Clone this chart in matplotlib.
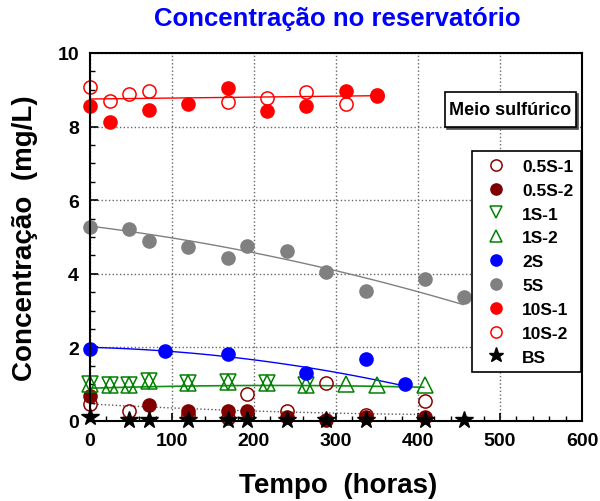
import numpy as np
import matplotlib
matplotlib.use("Agg")
import matplotlib.pyplot as plt
from matplotlib.patches import Rectangle
from matplotlib.transforms import offset_copy

plt.rcParams['font.family'] = ['Liberation Sans', 'DejaVu Sans']
plt.rcParams['font.weight'] = 'bold'

# dados (tempo em horas, concentração em mg/L)
t_05s1 = [0, 48, 120, 168, 192, 240, 288, 336, 408]
c_05s1 = [0.46, 0.28, 0.15, 0.08, 0.73, 0.28, 1.04, 0.15, 0.55]
t_05s2 = [0, 72, 120, 168, 192, 240, 288, 336, 408]
c_05s2 = [0.69, 0.43, 0.28, 0.26, 0.27, 0.11, 0.04, 0.10, 0.10]
t_1s1 = [0, 24, 48, 72, 120, 168, 216, 264]
c_1s1 = [1.00, 0.99, 0.99, 1.08, 1.04, 1.06, 1.02, 0.99]
t_1s2 = [0, 24, 48, 72, 120, 168, 216, 264, 312, 350, 408]
c_1s2 = [1.00, 0.99, 0.99, 1.08, 1.04, 1.06, 1.02, 0.99, 1.01, 0.97, 0.99]
t_2s = [0, 92, 168, 264, 336, 384]
c_2s = [1.97, 1.90, 1.83, 1.30, 1.69, 1.00]
t_5s = [0, 48, 72, 120, 168, 192, 240, 288, 336, 408, 456]
c_5s = [5.26, 5.21, 4.88, 4.73, 4.44, 4.76, 4.61, 4.05, 3.54, 3.85, 3.36]
t_10s1 = [0, 24, 72, 120, 168, 216, 264, 312, 350]
c_10s1 = [8.57, 8.13, 8.46, 8.62, 9.04, 8.42, 8.57, 8.96, 8.84]
t_10s2 = [0, 24, 48, 72, 168, 216, 264, 312, 350]
c_10s2 = [9.07, 8.70, 8.88, 8.96, 8.68, 8.78, 8.93, 8.62, 8.85]
t_bs = [0, 48, 72, 120, 168, 192, 240, 288, 336, 408, 456]
c_bs = [0.12, 0.04, 0.04, 0.04, 0.04, 0.04, 0.04, 0.04, 0.04, 0.04, 0.04]

# curvas de tendência
fit_05_t = [0, 100, 200, 300, 407]
fit_05_c = [0.46, 0.36, 0.27, 0.21, 0.18]
fit_1_t = [0, 50, 100, 200, 300, 407]
fit_1_c = [0.88, 0.93, 0.95, 0.96, 0.95, 0.92]
fit_2_t = [0, 100, 200, 300, 380]
fit_2_c = [2.00, 1.89, 1.66, 1.32, 0.97]
fit_5_t = [0, 100, 200, 300, 400, 455]
fit_5_c = [5.29, 4.98, 4.59, 4.05, 3.53, 3.16]
fit_10_t = [0, 350]
fit_10_c = [8.75, 8.84]


def trend(xs, ys, deg=2):
    p = np.polyfit(xs, ys, deg)
    xx = np.linspace(min(xs), max(xs), 100)
    return xx, np.polyval(p, xx)


fig = plt.figure(figsize=(6, 5.02), dpi=100)
ax = fig.add_axes([90/600, 80/502, 492/600, 368/502])

ax.plot(*trend(fit_05_t, fit_05_c), ls=':', color='0.35', lw=1)
ax.plot(*trend(fit_1_t, fit_1_c), color='#109010', lw=1.2)
ax.plot(*trend(fit_2_t, fit_2_c), color='blue', lw=1)
ax.plot(*trend(fit_5_t, fit_5_c), color='gray', lw=1)
ax.plot(*trend(fit_10_t, fit_10_c, 1), color='red', lw=1)

ms = 9.5
kw = dict(ls='none', clip_on=False)
ax.plot(t_05s1, c_05s1, 'o', ms=ms, mfc='none', mec='#8b0000', mew=1.1, label='0.5S-1', **kw)
ax.plot(t_05s2, c_05s2, 'o', ms=ms, color='#800000', label='0.5S-2', **kw)
ax.plot(t_1s1, c_1s1, 'v', ms=11, mfc='none', mec='#008000', mew=1.1, label='1S-1', **kw)
ax.plot(t_1s2, c_1s2, '^', ms=11, mfc='none', mec='#008000', mew=1.1, label='1S-2', **kw)
ax.plot(t_2s, c_2s, 'o', ms=ms, color='blue', label='2S', **kw)
ax.plot(t_5s, c_5s, 'o', ms=ms, color='gray', label='5S', **kw)
ax.plot(t_10s1, c_10s1, 'o', ms=ms, color='red', label='10S-1', **kw)
ax.plot(t_10s2, c_10s2, 'o', ms=ms, mfc='none', mec='red', mew=1.1, label='10S-2', **kw)
ax.plot(t_bs, c_bs, '*', ms=13, color='black', label='BS', **kw)

ax.set_xlim(0, 600)
ax.set_ylim(0, 10)
ax.set_xticks(range(0, 601, 100))
ax.set_yticks(range(0, 11, 2))
ax.set_xticks(range(0, 601, 20), minor=True)
ax.set_yticks(np.arange(0, 10.01, 0.5), minor=True)
ax.grid(True, which='major', ls=':', color='0.4', lw=1)
ax.tick_params(which='both', direction='in', top=False, right=False)
ax.tick_params(which='major', length=6, width=1.2, labelsize=14, pad=8)
ax.tick_params(which='minor', length=3.5, width=1)
for s in ax.spines.values():
    s.set_linewidth(1.5)
for lab in ax.get_xticklabels() + ax.get_yticklabels():
    lab.set_fontweight('bold')

leg = ax.legend(loc='upper right', bbox_to_anchor=(0.998, 0.734), borderaxespad=0,
                prop=dict(size=12.5, weight='bold'), markerscale=0.85,
                handlelength=1.95, handletextpad=0.5, labelspacing=0.5,
                borderpad=0.45, fancybox=False, framealpha=1, edgecolor='black')
leg.get_frame().set_linewidth(1.2)

# caixa "Meio sulfúrico" com sombra
box_x, box_y, box_w, box_h = 0.7215, 0.798, 0.266, 0.095
ax.add_patch(Rectangle((box_x, box_y), box_w, box_h, fc='0.3', ec='0.3', lw=1.2,
                       transform=offset_copy(ax.transAxes, fig=fig, x=2, y=-2, units='dots'),
                       zorder=5))
ax.add_patch(Rectangle((box_x, box_y), box_w, box_h, fc='white', ec='black', lw=1.2,
                       transform=ax.transAxes, zorder=6))
ax.text(box_x + box_w / 2, box_y + box_h / 2, 'Meio sulfúrico', transform=ax.transAxes,
        ha='center', va='center', fontsize=13, fontweight='bold', zorder=7)

fig.text(337/600, 1 - 19/502, 'Concentração no reservatório', ha='center', va='center',
         fontsize=18.5, fontweight='bold', color='blue')
fig.text(338/600, 1 - 486/502, 'Tempo  (horas)', ha='center', va='center',
         fontsize=20, fontweight='bold')
fig.text(25/600, 1 - 238/502, 'Concentração  (mg/L)', ha='center', va='center',
         rotation=90, fontsize=20, fontweight='bold')

fig.savefig('out.png', dpi=100)
